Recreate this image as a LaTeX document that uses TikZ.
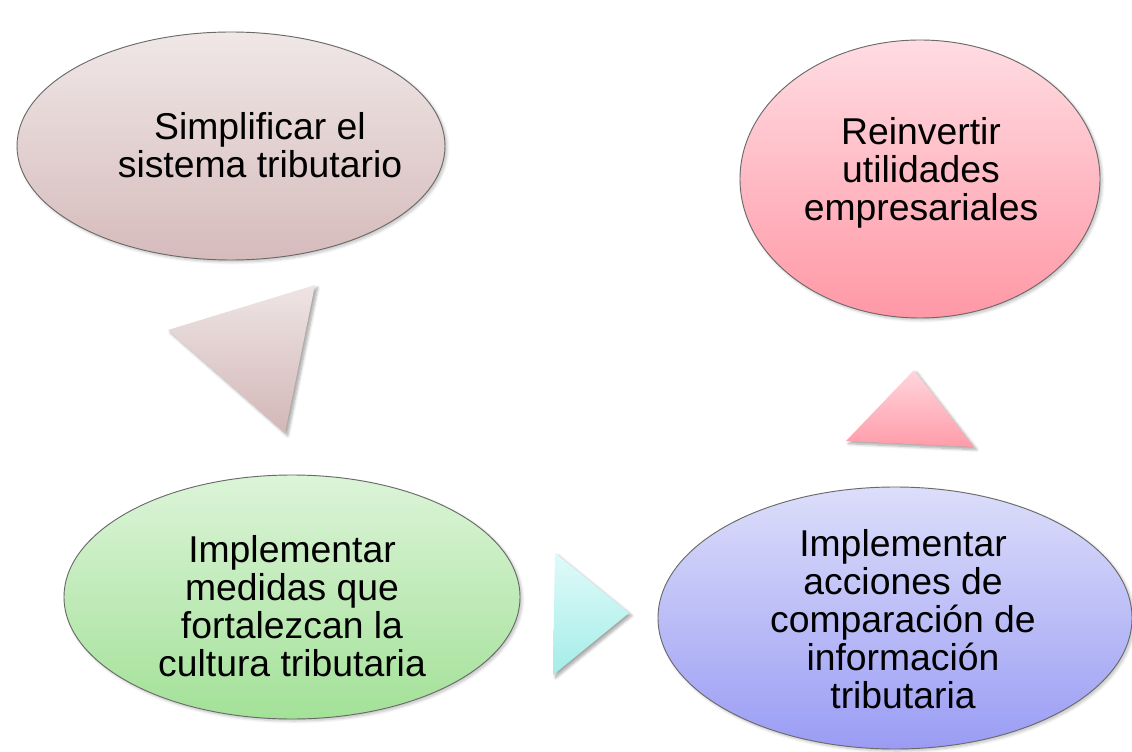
\documentclass[tikz,border=0pt]{standalone}
\usepackage{fontspec}
\setmainfont{Liberation Sans}
\usetikzlibrary{shapes.geometric,shadows.blur}
\definecolor{e1top}{HTML}{F0E7E7}
\definecolor{e1bot}{HTML}{D6BBBB}
\definecolor{e2top}{HTML}{FFDCE2}
\definecolor{e2bot}{HTML}{FF98A6}
\definecolor{e3top}{HTML}{DCF4D8}
\definecolor{e3bot}{HTML}{A3E198}
\definecolor{e4top}{HTML}{DCDEFA}
\definecolor{e4bot}{HTML}{9A9CF4}
\definecolor{t1top}{HTML}{EEE4E4}
\definecolor{t1bot}{HTML}{D3B7B7}
\definecolor{t2top}{HTML}{E0FAFA}
\definecolor{t2bot}{HTML}{A4EDE8}
\definecolor{t3top}{HTML}{FFD6DC}
\definecolor{t3bot}{HTML}{FF9CA9}
\definecolor{outline}{HTML}{6A6A6A}
\tikzset{
  bubble/.style={ellipse, draw=outline, line width=0.7pt, inner sep=0pt,
    blur shadow={shadow xshift=1.5pt, shadow yshift=-1.5pt, shadow opacity=25, shadow blur steps=6}},
  txt/.style={align=center, font=\fontsize{28}{28.6}\selectfont, text=black},
  arrowtri/.style={blur shadow={shadow xshift=2pt, shadow yshift=-2pt, shadow opacity=35, shadow blur steps=6}}
}
\begin{document}
\begin{tikzpicture}[x=0.75pt,y=-0.75pt]
\useasboundingbox (0,0) rectangle (1132,752);
% ellipses
\node[bubble, top color=e1top, bottom color=e1bot, minimum width=321pt, minimum height=171pt] (e1) at (231,146) {};
\node[bubble, top color=e2top, bottom color=e2bot, minimum width=270pt, minimum height=208.5pt] (e2) at (920,179) {};
\node[bubble, top color=e3top, bottom color=e3bot, minimum width=342pt, minimum height=183pt] (e3) at (292,597) {};
\node[bubble, top color=e4top, bottom color=e4bot, minimum width=355.5pt, minimum height=196.5pt] (e4) at (895,618) {};
% texts
\node[txt] (l1) at (260,145) {Simplificar el\\sistema tributario};
\node[txt] (l2) at (921,173) {Reinvertir\\utilidades\\empresariales};
\node[txt] (l3) at (292,606) {Implementar\\medidas que\\fortalezcan la\\cultura tributaria};
\node[txt] (l4) at (903,619) {Implementar\\acciones de\\comparación de\\información\\tributaria};
% triangle arrows
\coordinate (a1) at (168,330);
\coordinate (a2) at (315,285);
\coordinate (a3) at (285,433);
\shade[arrowtri, top color=t1top, bottom color=t1bot] (a1) -- (a2) -- (a3) -- cycle;
\coordinate (b1) at (555,553);
\coordinate (b2) at (629,613);
\coordinate (b3) at (553,675);
\shade[arrowtri, top color=t2top, bottom color=t2bot] (b1) -- (b2) -- (b3) -- cycle;
\coordinate (c1) at (914,370);
\coordinate (c2) at (974,447);
\coordinate (c3) at (846,441);
\shade[arrowtri, top color=t3top, bottom color=t3bot] (c1) -- (c2) -- (c3) -- cycle;
\end{tikzpicture}
\end{document}
